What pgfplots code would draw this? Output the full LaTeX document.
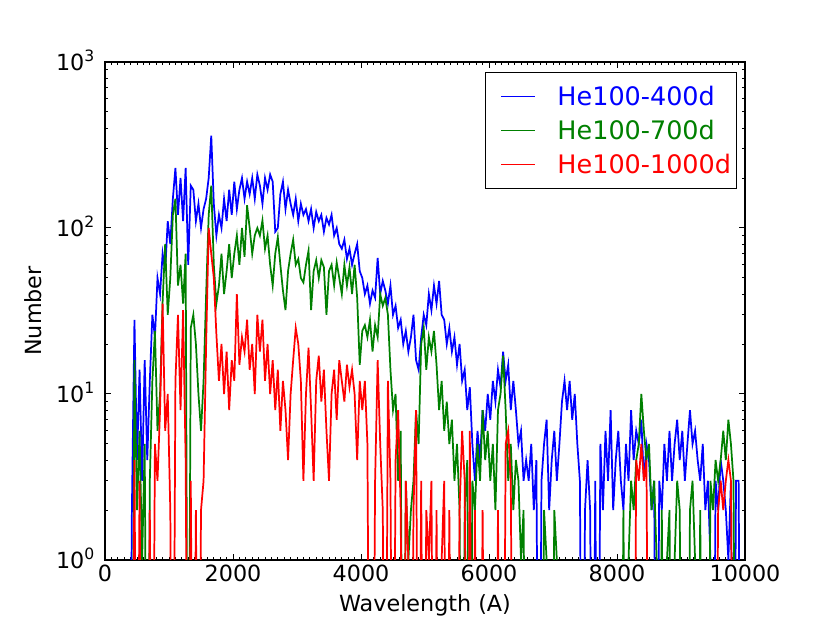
\documentclass[border=0pt]{standalone}
\usepackage{pgfplots}
\pgfplotsset{compat=1.18}
\usepackage{pgfplotstable}
\usepackage{fontspec}
\setmainfont{DejaVu Sans}
\definecolor{mblue}{rgb}{0,0,1}
\definecolor{mgreen}{rgb}{0,0.5,0}
\definecolor{mred}{rgb}{1,0,0}
\pgfplotstableread{
x b g r
380 0 0 0
420 2 0 0
460 28 16 4
500 4 2 0
540 14 6 3
580 3 1 0
620 16 5 1
660 4 0 0
700 12 3 2
740 30 12 0
780 22 24 5
820 50 6 3
860 40 10 8
900 70 36 35
940 55 80 6
980 110 30 10
1020 80 50 2
1060 150 120 0
1100 230 150 12
1140 120 45 30
1180 200 60 8
1220 110 35 32
1260 230 70 4
1300 60 0 0
1340 180 25 3
1380 170 30 0
1420 110 20 2
1460 140 10 0
1500 100 6 2
1540 130 12 3
1580 150 40 20
1620 200 120 100
1660 360 180 70
1700 140 60 50
1740 90 35 23
1780 120 45 12
1820 100 70 20
1860 150 40 10
1900 110 55 18
1940 170 80 8
1980 120 50 16
2020 190 70 12
2060 130 90 40
2100 170 60 15
2140 200 100 22
2180 150 67 18
2220 190 137 28
2260 160 100 14
2300 200 70 20
2340 150 90 10
2380 210 100 30
2420 180 90 18
2460 140 111 28
2500 200 75 12
2540 170 90 20
2580 210 60 10
2620 190 45 16
2660 95 70 8
2700 100 88 14
2740 160 60 6
2780 190 42 12
2820 130 32 8
2860 170 55 4
2900 140 70 10
2940 120 85 16
2980 150 60 25
3020 110 65 20
3060 140 50 12
3100 120 47 3
3140 130 60 10
3180 110 73 19
3220 130 32 8
3260 100 55 3
3300 125 64 12
3340 110 50 17
3380 120 64 9
3420 95 58 14
3460 115 30 6
3500 105 55 3
3540 120 60 10
3580 90 45 14
3620 100 62 7
3660 80 50 16
3700 75 40 12
3740 85 60 9
3780 65 45 15
3820 75 58 11
3860 60 40 14
3900 70 60 10
3940 80 38 4
3980 55 15 12
4020 50 24 8
4060 40 26 12
4100 45 22 5
4140 35 28 0
4180 42 18 0
4220 38 26 3
4260 66 22 16
4300 40 40 5
4340 48 34 2
4380 42 38 0
4420 35 30 12
4460 45 14 3
4500 30 8 0
4540 34 10 4
4580 25 3 8
4620 28 6 2
4660 20 0 0
4700 24 3 3
4740 18 1 1
4780 22 2 0
4820 30 3 2
4860 16 8 8
4900 14 5 0
4940 22 20 3
4980 30 25 0
5020 26 14 2
5060 40 22 1
5100 32 18 3
5140 45 24 0
5180 35 15 2
5220 48 8 0
5260 30 12 1
5300 28 6 3
5340 20 9 0
5380 25 5 2
5420 18 7 0
5460 22 3 1
5500 15 5 0
5540 20 2 2
5580 12 0 6
5620 14 2 3
5660 8 4 0
5700 11 0 6
5740 5 3 0
5780 3 2 2
5820 6 5 0
5860 4 3 0
5900 8 8 2
5940 6 4 0
5980 10 6 0
6020 7 3 1
6060 12 5 0
6100 9 2 0
6140 14 8 2
6180 11 10 0
6220 18 17 0
6260 12 8 5
6300 15 3 6
6340 8 5 3
6380 12 2 0
6420 8 4 0
6460 5 3 0
6500 6 1 0
6540 3 2 0
6580 4 0 0
6620 3 1 0
6660 5 0 0
6700 2 0 0
6740 4 1 0
6780 0 0 0
6820 3 0 0
6860 5 2 0
6900 7 1 0
6940 2 0 0
6980 4 0 0
7020 6 2 0
7060 3 1 0
7100 5 0 0
7140 9 0 0
7180 12 1 0
7220 8 0 0
7260 12 0 0
7300 7 0 0
7340 10 1 0
7380 5 0 0
7420 3 0 0
7460 0 0 0
7500 2 1 0
7540 4 0 0
7580 2 0 0
7620 0 0 0
7660 3 0 0
7700 0 0 0
7740 5 0 0
7780 2 0 0
7820 6 1 0
7860 3 0 0
7900 8 0 0
7940 2 0 0
7980 4 0 0
8020 6 1 0
8060 3 0 0
8100 2 2 0
8140 5 0 0
8180 3 1 0
8220 8 3 0
8260 4 2 0
8300 6 4 4
8340 5 5 3
8380 7 10 5
8420 3 6 3
8460 5 4 4
8500 4 5 0
8540 2 2 0
8580 3 3 0
8620 0 1 0
8660 3 0 0
8700 2 2 0
8740 5 0 0
8780 3 1 0
8820 6 2 0
8860 3 0 0
8900 5 1 0
8940 7 3 0
8980 4 2 0
9020 6 0 0
9060 3 1 0
9100 5 0 0
9140 8 2 0
9180 5 3 0
9220 6 1 0
9260 4 0 0
9300 3 2 0
9340 5 0 0
9380 2 1 0
9420 3 0 0
9460 1 3 0
9500 0 2 0
9540 3 4 0
9580 2 3 2
9620 4 4 3
9660 3 6 2
9700 2 4 3
9740 1 7 4
9780 3 5 3
9820 0 3 0
9860 3 0 0
9900 3 0 0
9940 0 0 0
}\spec

\begin{document}
\begin{tikzpicture}
\begin{axis}[
  scale only axis, width=480pt, height=373.5pt,
  ymode=log, xmin=0, xmax=10000, ymin=1, ymax=1000,
  scaled x ticks=false,
  xtick={0,2000,4000,6000,8000,10000},
  xticklabels={0,2000,4000,6000,8000,10000},
  minor x tick num=19,
  ytick={1,10,100,1000},
  yticklabels={10\textsuperscript{0},10\textsuperscript{1},10\textsuperscript{2},10\textsuperscript{3}},
  minor ytick={2,3,4,5,6,7,8,9,20,30,40,50,60,70,80,90,200,300,400,500,600,700,800,900},
  tick align=inside, tick pos=both,
  major tick length=4.5pt, minor tick length=2.4pt,
  every tick/.style={black, line width=0.75pt},
  axis line style={line width=0.9pt},
  tick label style={font=\fontsize{16.7}{20}\selectfont},
  label style={font=\fontsize{16.7}{20}\selectfont},
  xlabel={Wavelength (A)}, ylabel={Number},
  xlabel style={at={(axis description cs:0.5,-0.1044)}, anchor=base},
  ylabel style={at={(axis description cs:-0.1125,0.5)}, anchor=center},
  yticklabel style={anchor=base east, xshift=-4pt, yshift=-6.1pt},
  clip mode=individual,
  legend style={at={(axis description cs:0.9875,0.98)}, anchor=north east,
    draw=black, line width=0.9pt, font=\fontsize{19.1}{23}\selectfont,
    inner xsep=2pt, inner ysep=8pt, row sep=5.5pt, cells={anchor=west}},
  legend image code/.code={\path[draw=none] (0pt,0pt) -- (50pt,0pt);\draw[#1, line width=1.2pt] (10pt,0pt) -- (35pt,0pt);},
]
\addplot[mblue, line width=1.3pt] table[x=x, y expr={max(\thisrow{b},0.01)}] {\spec};
\addlegendentry{\textcolor{mblue}{He100-400d}}
\addplot[mgreen, line width=1.3pt] table[x=x, y expr={max(\thisrow{g},0.01)}] {\spec};
\addlegendentry{\textcolor{mgreen}{He100-700d}}
\addplot[mred, line width=1.3pt] table[x=x, y expr={max(\thisrow{r},0.01)}] {\spec};
\addlegendentry{\textcolor{mred}{He100-1000d}}
\coordinate (bbl) at (rel axis cs:-0.1641,-0.1265);
\coordinate (btr) at (rel axis cs:1.1328,1.1245);
\end{axis}
\pgfresetboundingbox
\path (bbl) rectangle (btr);
\end{tikzpicture}
\end{document}
